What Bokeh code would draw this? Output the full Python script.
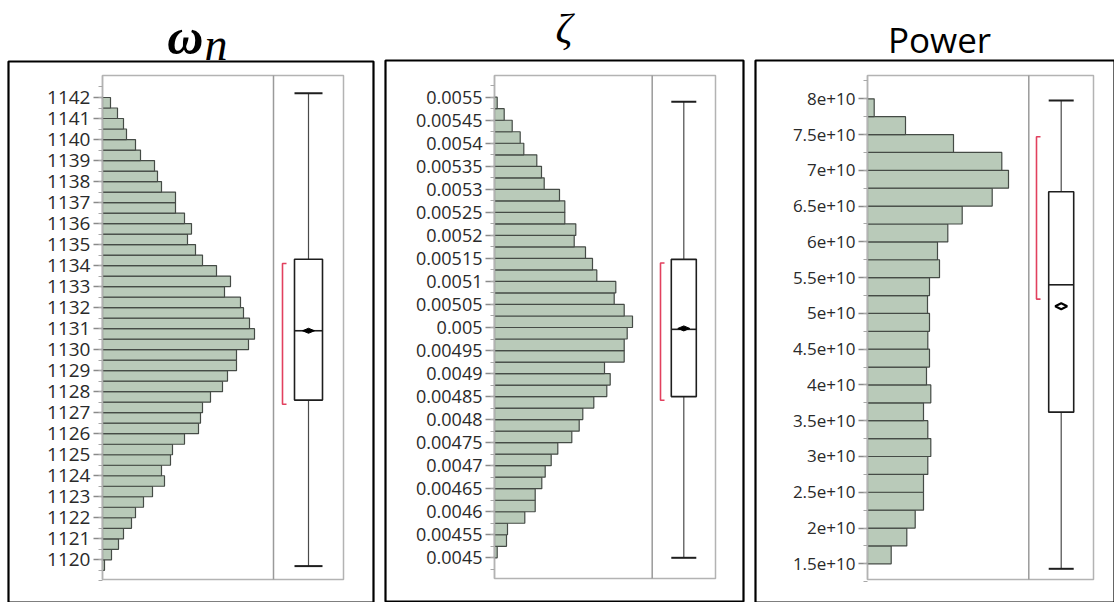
from bokeh.plotting import figure
from bokeh.layouts import row
from bokeh.models import Range1d, FixedTicker, CustomJSTickFormatter
from bokeh.core.properties import value
from bokeh.embed import file_html
from bokeh.resources import INLINE

# ---------------------------------------------------------------- data
# natural frequency omega_n: histogram bar lengths, bins of 0.5 from 1119.5 upward
wn_bin_start = 1119.5
wn_bin_width = 0.5
wn_counts = [2, 9, 16, 21, 29, 33, 41, 50, 62, 59, 68, 70, 82, 96, 98, 100, 108,
             120, 125, 134, 134, 146, 152, 147, 141, 138, 122, 128, 114, 100, 93,
             85, 89, 82, 73, 73, 59, 55, 52, 38, 33, 24, 21, 15, 8]
wn_ticks = [1120, 1121, 1122, 1123, 1124, 1125, 1126, 1127, 1128, 1129, 1130, 1131,
            1132, 1133, 1134, 1135, 1136, 1137, 1138, 1139, 1140, 1141, 1142]
wn_labels = ["1120", "1121", "1122", "1123", "1124", "1125", "1126", "1127", "1128",
             "1129", "1130", "1131", "1132", "1133", "1134", "1135", "1136", "1137",
             "1138", "1139", "1140", "1141", "1142"]
# whisker low, Q1, median, mean, Q3, whisker high
wn_box = [1119.7, 1127.6, 1130.9, 1130.9, 1134.3, 1142.2]
wn_shortest_half = [1127.4, 1134.1]

# damping ratio zeta: bins of 0.000025 from 0.0045 upward
zeta_bin_start = 0.0045
zeta_bin_width = 0.000025
zeta_counts = [2.7, 12, 13, 30.3, 40.7, 40.7, 47.3, 50.7, 56.7, 63.3, 77.3, 84.7,
               88.3, 99.3, 112.3, 115.7, 110, 129.7, 129.7, 132.7, 138, 129.7,
               119.7, 121.3, 102.3, 98, 91, 79.7, 81.3, 70.3, 70.3, 65, 49.7, 47,
               42.3, 29.3, 25.7, 17.7, 9.7, 2.7]
zeta_ticks = [0.0045, 0.00455, 0.0046, 0.00465, 0.0047, 0.00475, 0.0048, 0.00485,
              0.0049, 0.00495, 0.005, 0.00505, 0.0051, 0.00515, 0.0052, 0.00525,
              0.0053, 0.00535, 0.0054, 0.00545, 0.0055]
zeta_labels = ["0.0045", "0.00455", "0.0046", "0.00465", "0.0047", "0.00475",
               "0.0048", "0.00485", "0.0049", "0.00495", "0.005", "0.00505",
               "0.0051", "0.00515", "0.0052", "0.00525", "0.0053", "0.00535",
               "0.0054", "0.00545", "0.0055"]
zeta_box = [0.0045, 0.00485, 0.004996, 0.004998, 0.005148, 0.00549]
zeta_shortest_half = [0.004842, 0.00514]

# power: bins of 0.25e10 from 1.5e10 upward
power_bin_start = 1.5e10
power_bin_width = 0.25e10
power_counts = [23.7, 39.3, 47.7, 56, 56, 60.3, 63.3, 60.3, 56, 63.3, 59, 62, 60.3,
                62, 60, 62, 72, 70, 80.3, 94.7, 124.7, 141, 134.3, 86, 38, 6.7]
power_ticks = [1.5e10, 2e10, 2.5e10, 3e10, 3.5e10, 4e10, 4.5e10, 5e10, 5.5e10,
               6e10, 6.5e10, 7e10, 7.5e10, 8e10]
power_labels = ["1.5e+10", "2e+10", "2.5e+10", "3e+10", "3.5e+10", "4e+10",
                "4.5e+10", "5e+10", "5.5e+10", "6e+10", "6.5e+10", "7e+10",
                "7.5e+10", "8e+10"]
power_box = [1.43e10, 3.62e10, 5.40e10, 5.10e10, 6.70e10, 7.976e10]
power_shortest_half = [5.20e10, 7.47e10]

# ---------------------------------------------------------------- styling
BAR_FILL = "#b9cab9"
BAR_LINE = "#454b46"
FRAME_GRAY = "#b3b3b3"
DIVIDER_GRAY = "#9a9a9a"
BRACKET_RED = "#e2405e"
TICK_FONT = "Open Sans"
PAGE_H = 602

label_js = """
let best = 0;
for (let i = 0; i < tick_values.length; i++) {
    if (Math.abs(tick_values[i] - tick) < Math.abs(tick_values[best] - tick)) { best = i; }
}
return tick_labels[best];
"""


def build(width, page_x, outer, inner, divider_px, cal, counts, bin_start, bin_width,
          ticks, labels, box, half, box_px, box_hw, bracket_px, label_size,
          hollow_mean):
    """One panel: the canvas is the plotting area.  outer/inner give
    (left, right, top, bottom) page pixels of the black panel border and the
    grey plot frame; cal holds two (value, page-y) pairs fixing the value axis.
    Returns the figure and helpers mapping page pixels to data coordinates."""
    (v_a, y_a), (v_b, y_b) = cal
    per_px = (v_a - v_b) / (y_b - y_a)

    def to_val(y_px):
        return v_a + (y_a - y_px) * per_px

    o_l, o_r, o_t, o_b = outer
    i_l, i_r, i_t, i_b = inner

    def to_x(x_px):
        return x_px - i_l

    p = figure(width=width, height=PAGE_H, output_backend="svg",
               toolbar_location=None, x_axis_location=None,
               x_range=Range1d(to_x(page_x), to_x(page_x + width)),
               y_range=Range1d(to_val(PAGE_H), to_val(0)),
               min_border=0, outline_line_color=None)
    p.grid.visible = False
    p.background_fill_color = "white"
    p.border_fill_color = "white"

    g_lo, g_hi = to_val(i_b), to_val(i_t)

    # black panel border
    p.quad(left=[to_x(o_l)], right=[to_x(o_r)], bottom=[to_val(o_b)],
           top=[to_val(o_t)], fill_alpha=0, line_color="black", line_width=2.2)

    # grey plot frame and divider between histogram and box plot
    p.quad(left=[0], right=[to_x(i_r)], bottom=[g_lo], top=[g_hi],
           fill_color="white", line_color=FRAME_GRAY, line_width=1.5)
    p.segment(x0=[to_x(divider_px)], y0=[g_lo], x1=[to_x(divider_px)], y1=[g_hi],
              line_color=DIVIDER_GRAY, line_width=1.5)

    # histogram
    edges = [bin_start + i * bin_width for i in range(len(counts))]
    tops = [e + bin_width for e in edges]
    p.quad(left=0, right=counts, bottom=edges, top=tops,
           fill_color=BAR_FILL, line_color=BAR_LINE, line_width=1.2)

    # value axis on the left edge of the grey frame
    ax = p.yaxis[0]
    ax.fixed_location = 0
    ax.bounds = (g_lo, g_hi)
    minor = [bin_start - bin_width + i * bin_width for i in range(len(counts) + 3)]
    ax.ticker = FixedTicker(ticks=ticks, minor_ticks=minor)
    ax.formatter = CustomJSTickFormatter(
        args=dict(tick_values=ticks, tick_labels=labels), code=label_js)
    ax.axis_line_color = FRAME_GRAY
    ax.axis_line_width = 1.5
    ax.major_tick_line_color = "#8a8a8a"
    ax.major_tick_line_width = 1.5
    ax.major_tick_out = 9
    ax.major_tick_in = 0
    ax.minor_tick_line_color = "#a8a8a8"
    ax.minor_tick_line_width = 1.2
    ax.minor_tick_out = 4
    ax.minor_tick_in = 0
    ax.major_label_standoff = 3
    ax.major_label_text_font = TICK_FONT
    ax.major_label_text_font_size = label_size
    ax.major_label_text_color = "#2a2a2a"

    # box plot
    cx = to_x(box_px)
    lo, q1, med, mean, q3, hi = box
    p.segment(x0=[cx, cx], y0=[q3, q1], x1=[cx, cx], y1=[hi, lo],
              line_color="#4a4a4a", line_width=1.2)
    p.segment(x0=[cx - box_hw, cx - box_hw], y0=[hi, lo],
              x1=[cx + box_hw, cx + box_hw], y1=[hi, lo],
              line_color="#1e1e1e", line_width=2)
    p.quad(left=[cx - box_hw], right=[cx + box_hw], bottom=[q1], top=[q3],
           fill_color="white", line_color="#1e1e1e", line_width=1.6)
    p.segment(x0=[cx - box_hw], y0=[med], x1=[cx + box_hw], y1=[med],
              line_color="#1e1e1e", line_width=1.6)
    dx, dy = 6, (3.0 if hollow_mean else 2.5) * per_px
    p.patch(x=[cx - dx, cx, cx + dx, cx], y=[mean, mean + dy, mean, mean - dy],
            fill_color="white" if hollow_mean else "black",
            line_color="black", line_width=2 if hollow_mean else 1)

    # shortest-half bracket
    bx = to_x(bracket_px)
    s_lo, s_hi = half
    p.line(x=[bx + 4, bx, bx, bx + 4], y=[s_hi, s_hi, s_lo, s_lo],
           line_color=BRACKET_RED, line_width=1.6)
    return p, to_x, to_val


def add_title(p, to_x, to_val, x_px, y_px, text, align, font, style, size):
    p.text(x=[to_x(x_px)], y=[to_val(y_px)], text=[text], text_align=align,
           text_baseline="alphabetic", text_font=value(font),
           text_font_style=style, text_font_size=size, text_color="black")


# omega_n panel
p1, x1, v1 = build(380, 0, (8, 373, 61, 602), (102, 343, 75, 579), 273,
                   ((1142, 97.0), (1120, 559.3)), wn_counts, wn_bin_start,
                   wn_bin_width, wn_ticks, wn_labels, wn_box, wn_shortest_half,
                   308, 14, 282, "19px", False)
add_title(p1, x1, v1, 203, 36, "ω", "right", "Liberation Serif", "bold italic", "50px")
add_title(p1, x1, v1, 204, 44, "n", "left", "Liberation Serif", "italic", "46px")

# zeta panel
p2, x2, v2 = build(370, 380, (385, 743, 60, 601), (494, 715, 75, 578), 651.7,
                   ((0.0055, 96.7), (0.0045, 557.3)), zeta_counts, zeta_bin_start,
                   zeta_bin_width, zeta_ticks, zeta_labels, zeta_box,
                   zeta_shortest_half, 683.3, 12.5, 660, "18px", False)
add_title(p2, x2, v2, 563.5, 28, "ζ", "center", "Liberation Serif", "italic", "42px")

# power panel
p3, x3, v3 = build(364, 750, (755, 1114, 60, 602), (867, 1093, 75, 579), 1028.3,
                   ((8e10, 98.3), (1.5e10, 563.3)), power_counts, power_bin_start,
                   power_bin_width, power_ticks, power_labels, power_box,
                   power_shortest_half, 1060.7, 12.5, 1036, "17px", True)
add_title(p3, x3, v3, 939, 39, "Power", "center", "Open Sans", "normal", "35px")

layout = row(p1, p2, p3, spacing=0)
open("out.html", "w").write(file_html(layout, INLINE))
